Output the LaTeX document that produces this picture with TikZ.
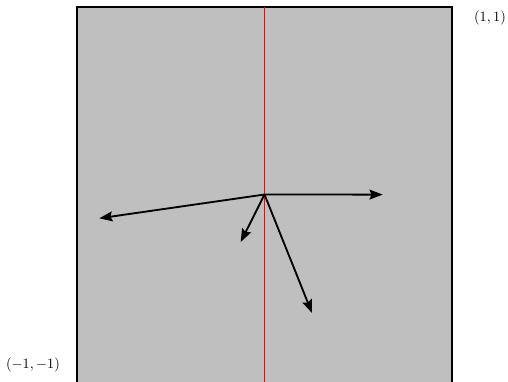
\documentclass[tikz,border=0pt]{standalone}
\usetikzlibrary{arrows.meta}
\begin{document}
\begin{tikzpicture}[x=0.026667cm,y=-0.026667cm,
  vec/.style={line width=1.4pt,-{Stealth[length=10pt,width=7.5pt,inset=1.5pt]}},
  lbl/.style={inner sep=0pt,scale=1.08}]
\useasboundingbox (0,0) rectangle (508,381);
\begin{scope}
\clip (0,0) rectangle (508,381);
\draw[line width=1.5pt,fill=lightgray] (77,7) rectangle (452,386);
\draw[red,line width=1.4pt] (264.5,7) -- (264.5,386);
\end{scope}
\coordinate (o) at (264.5,194.5);
\coordinate (r) at (382.7,194.6);
\coordinate (l) at (99.3,218.3);
\coordinate (s) at (240.7,242);
\coordinate (d) at (312,313);
\draw[vec] (o) -- (r);
\draw[vec] (o) -- (l);
\draw[vec] (o) -- (s);
\draw[vec] (o) -- (d);
\node[lbl] (tr) at (490,18) {$(1,1)$};
\node[lbl] (bl) at (33,365) {$(-1,-1)$};
\end{tikzpicture}
\end{document}
